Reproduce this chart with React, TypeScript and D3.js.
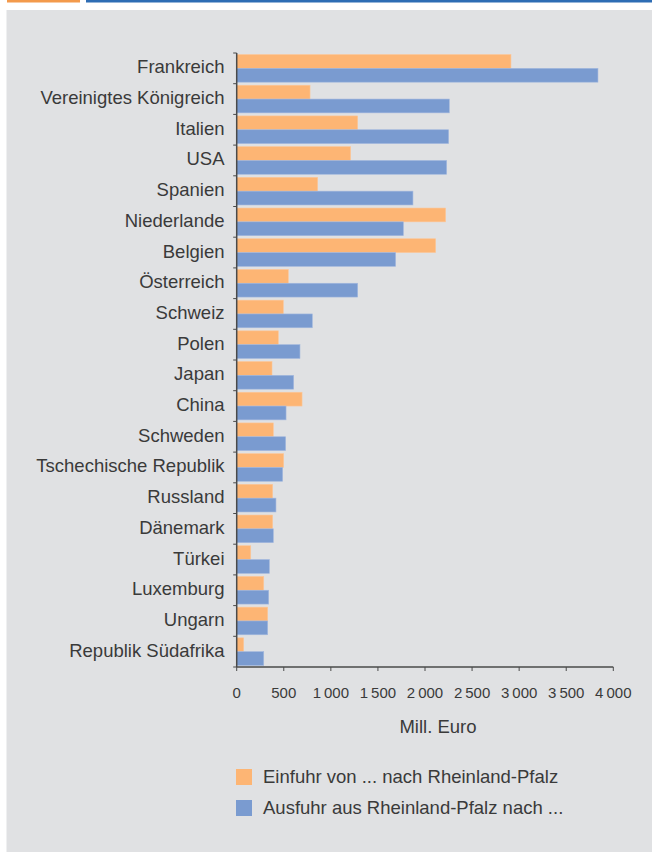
import React from "react";
import * as d3 from "d3";

const categories = [
  "Frankreich",
  "Vereinigtes Königreich",
  "Italien",
  "USA",
  "Spanien",
  "Niederlande",
  "Belgien",
  "Österreich",
  "Schweiz",
  "Polen",
  "Japan",
  "China",
  "Schweden",
  "Tschechische Republik",
  "Russland",
  "Dänemark",
  "Türkei",
  "Luxemburg",
  "Ungarn",
  "Republik Südafrika",
];

const einfuhr = [2913, 779, 1285, 1210, 860, 2219, 2113, 548, 495, 442, 375, 694, 389, 499, 382, 382, 149, 287, 329, 74];
const ausfuhr = [3837, 2258, 2251, 2230, 1872, 1770, 1688, 1285, 803, 672, 605, 524, 520, 488, 417, 389, 347, 340, 329, 287];

const xTicks = [0, 500, 1000, 1500, 2000, 2500, 3000, 3500, 4000];
const seriesNames = ["Einfuhr von ... nach Rheinland-Pfalz", "Ausfuhr aus Rheinland-Pfalz nach ..."];
const seriesColors = ["#fdb574", "#7a9bd0"];

const fmt = (v: number) => (v >= 1000 ? `${Math.floor(v / 1000)}\u2009${String(v % 1000).padStart(3, "0")}` : String(v));

export default function App() {
  const W = 652;
  const H = 852;
  const x0 = 236.7;
  const x1 = 613.3;
  const yTop = 53;
  const yBot = 667;
  const x = d3.scaleLinear().domain([0, 4000]).range([x0, x1]);
  const y = d3.scaleBand<string>().domain(categories).range([yTop, yBot]).paddingInner(0.1).paddingOuter(0.05);
  const sub = d3.scaleBand<number>().domain([0, 1]).range([0, y.bandwidth()]);
  const step = y.step();
  const textColor = "#3a3a3a";
  const font = "'Liberation Sans', Arial, Helvetica, sans-serif";
  const series = [einfuhr, ausfuhr];

  return (
    <svg width={W} height={H} style={{ position: "absolute", left: 0, top: 0 }} fontFamily={font}>
      <rect x={0} y={0} width={W} height={H} fill="#ffffff" />
      <rect x={7} y={0} width={73} height={2.5} fill="#f39a4c" />
      <rect x={86} y={0} width={W - 86} height={2.5} fill="#2e6db4" />
      <rect x={6.5} y={10} width={W - 6.5} height={H - 10} fill="#e0e1e3" />

      {series.map((vals, si) =>
        vals.map((v, i) => (
          <rect
            key={`${si}-${i}`}
            x={x(0)}
            y={(y(categories[i]) as number) + (sub(si) as number)}
            width={x(v) - x(0)}
            height={sub.bandwidth()}
            fill={seriesColors[si]}
            stroke={si === 0 ? "#fcc79a" : "#a3b8de"}
            strokeWidth={0.6}
          />
        ))
      )}

      {/* y axis */}
      <line x1={x0} x2={x0} y1={yTop} y2={yBot} stroke="#4a4a4a" strokeWidth={1.5} />
      {d3.range(categories.length + 1).map((i) => (
        <line key={i} x1={x0 - 3.5} x2={x0} y1={yTop + i * step} y2={yTop + i * step} stroke="#4a4a4a" strokeWidth={1} />
      ))}
      {categories.map((c) => (
        <text
          key={c}
          x={224.5}
          y={(y(c) as number) - step * 0.05 + step / 2 - 1.5}
          dy="0.35em"
          textAnchor="end"
          fontSize={18.5}
          fill={textColor}
        >
          {c}
        </text>
      ))}

      {/* x axis */}
      <line x1={x0} x2={x1} y1={yBot} y2={yBot} stroke="#4a4a4a" strokeWidth={1.3} />
      {xTicks.map((t) => (
        <g key={t}>
          <line x1={x(t)} x2={x(t)} y1={yBot} y2={yBot + 4} stroke="#4a4a4a" strokeWidth={1} />
          <text x={x(t)} y={698} textAnchor="middle" fontSize={15} fill={textColor}>
            {fmt(t)}
          </text>
        </g>
      ))}
      <text x={438} y={732.5} textAnchor="middle" fontSize={18.5} fill={textColor}>
        Mill. Euro
      </text>

      {/* legend */}
      {seriesNames.map((n, i) => (
        <g key={n} transform={`translate(236, ${769 + i * 31})`}>
          <rect x={0} y={0} width={16} height={16} fill={seriesColors[i]} />
          <text x={27} y={8} dy="0.35em" fontSize={18.5} fill={textColor}>
            {n}
          </text>
        </g>
      ))}
    </svg>
  );
}
